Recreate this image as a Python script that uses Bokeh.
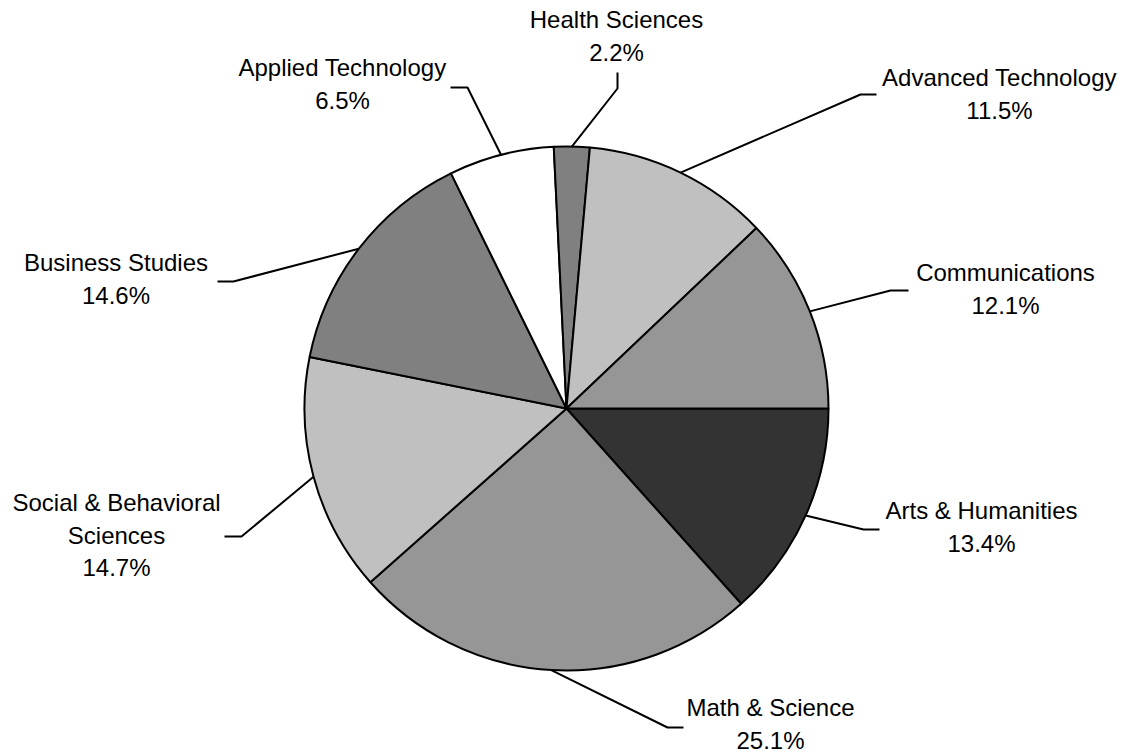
import math
from bokeh.plotting import figure
from bokeh.models import Range1d, ColumnDataSource
from bokeh.core.properties import value
from bokeh.embed import file_html
from bokeh.resources import INLINE

# ---- data ----
categories = ["Arts & Humanities", "Math & Science", "Social & Behavioral\nSciences",
              "Business Studies", "Applied Technology", "Health Sciences",
              "Advanced Technology", "Communications"]
percents = [13.4, 25.1, 14.7, 14.6, 6.5, 2.2, 11.5, 12.1]
colors = ["#333333", "#969696", "#C0C0C0", "#808080", "#FFFFFF", "#808080", "#C0C0C0", "#969696"]

# ---- layout (pixel frame; y measured downwards from top) ----
W, H = 1127, 753
CX, CY, R = 566, 408, 262
# elbow point of leader, end point of leader, label centre x, first label line centre y
elbows = [(863, 529), (667, 727), (241, 536), (233, 281), (467, 87), (617, 88), (860, 94), (890, 290)]
ends = [(879, 529), (683, 727), (224, 536), (217, 281), (450, 87), (617, 72), (876, 94), (908, 290)]
label_pos = [(981, 510), (770, 707), (116, 502), (115.5, 262), (342, 67), (616, 19), (999, 77), (1005, 272)]
LINE_STEP = 32.5
FONT = "Liberation Sans"
FONT_SIZE = "24px"


def fy(ypix):
    return H - ypix


p = figure(width=W, height=H, output_backend="svg", toolbar_location=None,
           x_range=Range1d(0, W), y_range=Range1d(0, H), min_border=0)
p.axis.visible = False
p.grid.visible = False
p.outline_line_color = None

total = sum(percents)
starts, stops, mids = [], [], []
cum = 0.0
for v in percents:
    a0 = -2 * math.pi * cum / total
    cum += v
    a1 = -2 * math.pi * cum / total
    starts.append(a0)
    stops.append(a1)
    mids.append((a0 + a1) / 2)

src = ColumnDataSource(dict(start=starts, end=stops, color=colors))
p.wedge(x=CX, y=fy(CY), radius=R, start_angle="start", end_angle="end", direction="clock",
        fill_color="color", line_color="black", line_width=2, source=src)

xs, ys = [], []
for m, (ex, ey), (tx, ty) in zip(mids, elbows, ends):
    sx = CX + R * math.cos(m)
    sy = fy(CY) + R * math.sin(m)
    xs.append([sx, ex, tx])
    ys.append([sy, fy(ey), fy(ty)])
p.multi_line(xs=xs, ys=ys, line_color="black", line_width=2)

tx_, ty_, tt_ = [], [], []
for cat, v, (lx, ly) in zip(categories, percents, label_pos):
    lines = cat.split("\n") + [f"{v:.1f}%"]
    for i, ln in enumerate(lines):
        tx_.append(lx)
        ty_.append(fy(ly + i * LINE_STEP))
        tt_.append(ln)
p.text(x=tx_, y=ty_, text=tt_, text_align="center", text_baseline="middle",
       text_font=value(FONT), text_font_size=FONT_SIZE, text_color="black")

open("out.html", "w").write(file_html(p, INLINE))
